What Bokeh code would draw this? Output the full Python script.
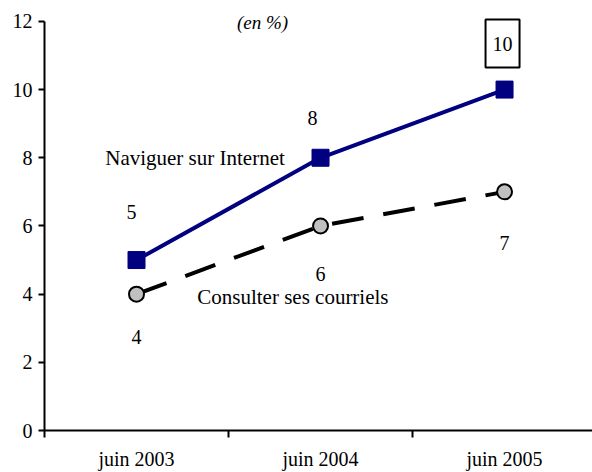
from bokeh.plotting import figure
from bokeh.models import ColumnDataSource, Range1d, FixedTicker, Label
from bokeh.embed import file_html
from bokeh.resources import INLINE

# ---- data ----
categories = ["juin 2003", "juin 2004", "juin 2005"]
internet = [5, 8, 10]
courriels = [4, 6, 7]
y_ticks = [0, 2, 4, 6, 8, 10, 12]
series_internet = "Naviguer sur Internet"
series_courriels = "Consulter ses courriels"
unit_note = "(en %)"

xs = [i + 0.5 for i in range(len(categories))]
FONT = "Liberation Serif"

p = figure(width=592, height=472, output_backend="svg", toolbar_location=None,
           x_range=Range1d(0, 2.978), y_range=Range1d(0, 12.613),
           min_border_left=44, min_border_right=0, min_border_top=0, min_border_bottom=40)
p.outline_line_color = None
p.xgrid.visible = False
p.ygrid.visible = False
p.background_fill_color = "white"
p.border_fill_color = "white"

# lines
src_i = ColumnDataSource(dict(x=xs, y=internet))
src_c = ColumnDataSource(dict(x=xs, y=courriels))
p.line("x", "y", source=src_c, line_color="black", line_width=4, line_dash="32 20")
p.line("x", "y", source=src_i, line_color="#000080", line_width=4)
p.scatter("x", "y", source=src_i, marker="square", size=17, fill_color="#000080", line_color="#000080")
p.scatter("x", "y", source=src_c, marker="circle", size=15, fill_color="#c0c0c0",
          line_color="black", line_width=2)

# value labels
off_i = [(-5, 48), (-8, 40), (-2, 46)]
off_c = [(0, -43), (0, -48), (0, -51)]
for k, (x, v) in enumerate(zip(xs, internet)):
    kw = {}
    if k == len(xs) - 1:
        kw = dict(border_line_color="black", border_line_width=2, background_fill_color="white",
                  padding=(7, 7, 17, 17))
    p.add_layout(Label(x=x, y=v, text=str(v), x_offset=off_i[k][0], y_offset=off_i[k][1],
                       text_align="center", text_baseline="middle", text_font=FONT,
                       text_font_size="20px", text_color="black", **kw))
for k, (x, v) in enumerate(zip(xs, courriels)):
    p.add_layout(Label(x=x, y=v, text=str(v), x_offset=off_c[k][0], y_offset=off_c[k][1],
                       text_align="center", text_baseline="middle", text_font=FONT,
                       text_font_size="20px", text_color="black"))

# series names
p.add_layout(Label(x=0.33, y=8.0, text=series_internet, text_align="left", text_baseline="middle",
                   text_font=FONT, text_font_size="21px", text_color="black"))
p.add_layout(Label(x=0.83, y=3.91, text=series_courriels, text_align="left", text_baseline="middle",
                   text_font=FONT, text_font_size="21px", text_color="black"))
p.add_layout(Label(x=1.185, y=11.97, text=unit_note, text_align="center", text_baseline="middle",
                   text_font=FONT, text_font_size="19px", text_font_style="italic", text_color="black"))

# axes
xa = p.xaxis[0]
xa.ticker = FixedTicker(ticks=xs, minor_ticks=[0, 1, 2, 3])
xa.major_label_overrides = {x: c for x, c in zip(xs, categories)}
xa.major_tick_line_color = None
xa.minor_tick_out = 7
xa.minor_tick_in = 0
xa.minor_tick_line_width = 2
xa.minor_tick_line_color = "black"
xa.axis_line_width = 2
xa.axis_line_color = "black"
xa.major_label_text_font = FONT
xa.major_label_text_font_size = "20px"
xa.major_label_text_color = "black"
xa.major_label_standoff = 10

ya = p.yaxis[0]
ya.ticker = FixedTicker(ticks=y_ticks)
ya.bounds = (0, 12)
ya.minor_tick_line_color = None
ya.major_tick_out = 6
ya.major_tick_in = 0
ya.major_tick_line_width = 2
ya.major_tick_line_color = "black"
ya.axis_line_width = 2
ya.axis_line_color = "black"
ya.major_label_text_font = FONT
ya.major_label_text_font_size = "20px"
ya.major_label_text_color = "black"
ya.major_label_standoff = 6

open("out.html", "w").write(file_html(p, INLINE))
